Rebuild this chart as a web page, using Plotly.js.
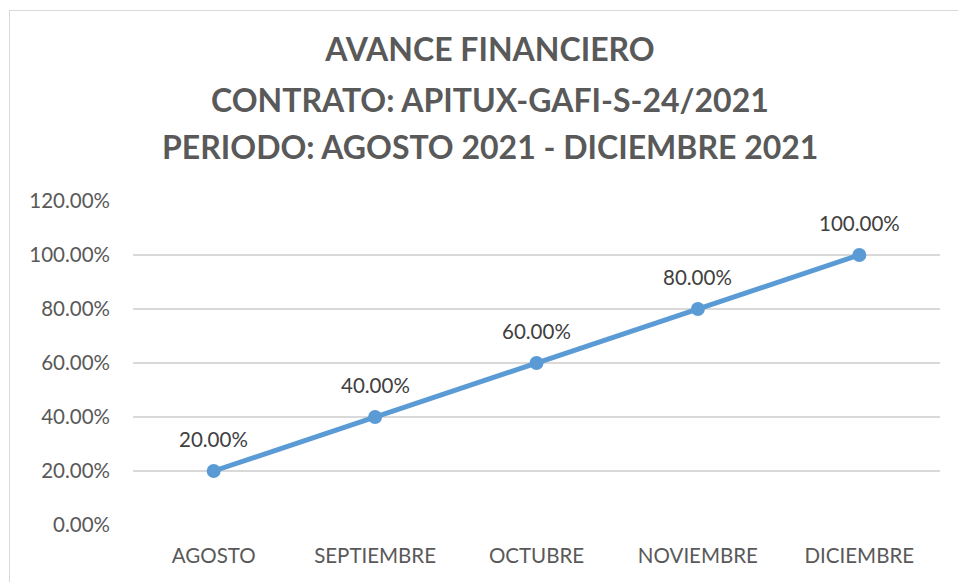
<!DOCTYPE html>
<html>
<head>
<meta charset="utf-8">
<script src="https://cdn.plot.ly/plotly-3.0.1.min.js"></script>
<style>
html,body{margin:0;padding:0;background:#fff;overflow:hidden;}
#chart{width:958px;height:582px;position:relative;}
#frame{position:absolute;left:9px;top:10px;width:1000px;height:600px;border:1.5px solid #D9D9D9;pointer-events:none;box-sizing:border-box;}
</style>
</head>
<body>
<div id="chart"></div>
<div id="frame"></div>
<script>
const categories = ["AGOSTO", "SEPTIEMBRE", "OCTUBRE", "NOVIEMBRE", "DICIEMBRE"];
const avance = [0.20, 0.40, 0.60, 0.80, 1.00];
const titleLines = ["AVANCE FINANCIERO", "CONTRATO: APITUX-GAFI-S-24/2021", "PERIODO: AGOSTO 2021 - DICIEMBRE 2021"];
const yTickVals = [0, 0.2, 0.4, 0.6, 0.8, 1.0, 1.2];
const yTickText = ["0.00%", "20.00%", "40.00%", "60.00%", "80.00%", "100.00%", "120.00%"];

const FONT = "Lato, 'Open Sans', sans-serif";
const H = 582, T = 201, B = 57;
const plotH = H - T - B;
const toPaperY = px => (H - B - px) / plotH;
const titleX = (490 - 133) / 807;

const trace = {
  x: categories,
  y: avance,
  type: "scatter",
  mode: "lines+markers",
  line: {color: "#5B9BD5", width: 5},
  marker: {color: "#5B9BD5", size: 14},
  cliponaxis: false,
  hoverinfo: "x+y"
};

const titleFont = {family: FONT, size: 32, color: "#595959", weight: "bold"};

const annotations = [
  {text: titleLines[1], xref: "paper", yref: "paper", x: titleX, y: toPaperY(100), xanchor: "center", yanchor: "middle", showarrow: false, font: titleFont},
  {text: titleLines[2], xref: "paper", yref: "paper", x: titleX, y: toPaperY(147), xanchor: "center", yanchor: "middle", showarrow: false, font: titleFont}
].concat(categories.map((c, i) => ({
  x: c, y: avance[i], xref: "x", yref: "y",
  text: (avance[i] * 100).toFixed(2) + "%",
  showarrow: false, yshift: 32, xanchor: "center", yanchor: "middle",
  font: {family: FONT, size: 20.5, color: "#404040"}
})));

const layout = {
  width: 958,
  height: 582,
  margin: {l: 133, r: 18, t: T, b: B},
  paper_bgcolor: "#ffffff",
  plot_bgcolor: "#ffffff",
  showlegend: false,
  title: {
    text: titleLines[0],
    font: titleFont,
    x: 490 / 958,
    xref: "container",
    xanchor: "center",
    y: 1 - 50 / 582,
    yref: "container",
    yanchor: "middle"
  },
  annotations: annotations,
  xaxis: {
    type: "category",
    range: [-0.5, 4.5],
    showgrid: false,
    zeroline: false,
    showline: false,
    ticks: "",
    ticklabelstandoff: 16,
    tickfont: {family: FONT, size: 20.5, color: "#595959"},
    automargin: false
  },
  yaxis: {
    range: [0, 1.2],
    tickvals: yTickVals,
    ticktext: yTickText,
    showgrid: true,
    gridcolor: "#D9D9D9",
    gridwidth: 1.3,
    zeroline: false,
    showline: false,
    ticks: "",
    ticklen: 0,
    ticklabelstandoff: 22,
    tickfont: {family: FONT, size: 20.5, color: "#595959"},
    automargin: false
  }
};

Plotly.newPlot("chart", [trace], layout, {displayModeBar: false, staticPlot: true});
</script>
</body>
</html>
